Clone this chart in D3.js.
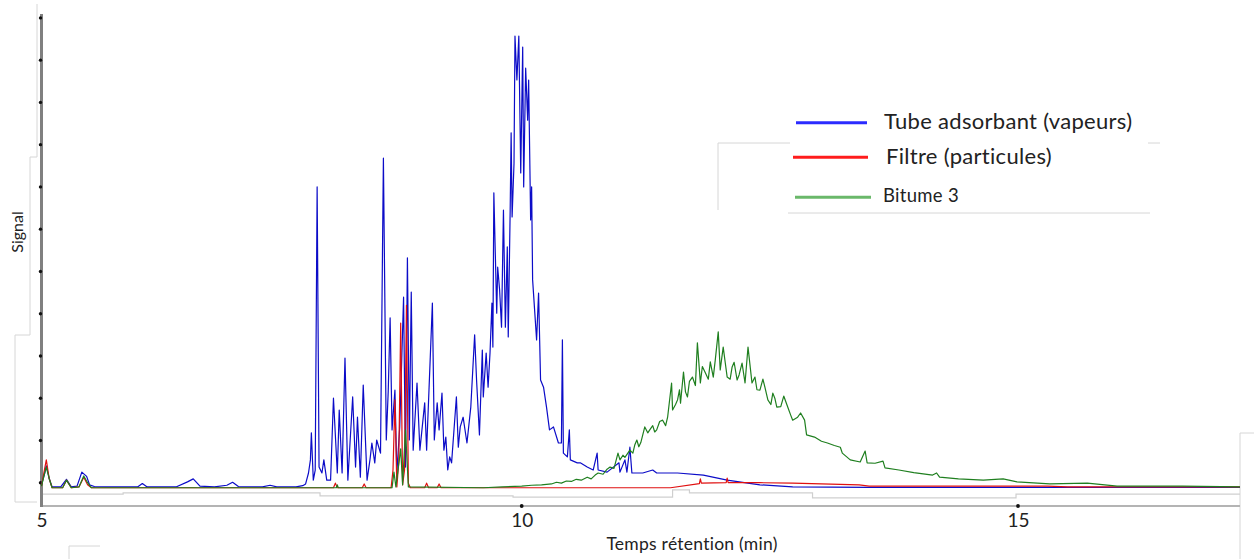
<!DOCTYPE html>
<html>
<head>
<meta charset="utf-8">
<script src="https://cdn.jsdelivr.net/npm/d3@7/dist/d3.min.js"></script>
<style>
  html, body { margin: 0; padding: 0; background: #fff; }
  svg { display: block; }
  text { font-family: Lato, "Open Sans", sans-serif; fill: #222; }
</style>
</head>
<body>
<svg id="chart" width="1254" height="559"></svg>
<script>
// ---------- data (retention time in min, signal in arbitrary units) ----------
const xTickValues = [5, 10, 15];
const xTickLabels = ["5", "10", "15"];
const yTickValues = [0, 10, 20, 30, 40, 50, 60, 70, 80, 90, 100, 110];

const seriesNames = ["Tube adsorbant (vapeurs)", "Filtre (particules)", "Bitume 3"];

const tubeSeries = [
  [5.00,-0.5],[5.03,2.0],[5.05,4.0],[5.08,1.0],[5.11,-1.0],[5.20,-1.0],[5.26,0.8],[5.31,-1.0],
  [5.37,-0.8],[5.42,2.5],[5.47,1.5],[5.50,-0.5],[5.55,-0.9],[5.70,-1.0],[6.00,-1.0],[6.05,-0.2],
  [6.10,-1.0],[6.40,-1.0],[6.52,0.2],[6.58,0.9],[6.65,-0.8],[6.80,-1.0],[6.93,-0.6],[6.99,0.1],
  [7.05,-0.9],[7.30,-1.0],[7.38,-0.6],[7.45,-1.0],[7.65,-1.0],[7.72,-0.7],[7.75,-0.3],
  [7.78,2.3],[7.80,5.4],[7.81,11.8],[7.83,0.6],[7.85,3.0],[7.87,70.0],[7.89,3.7],[7.92,2.3],
  [7.94,5.4],[7.97,0.6],[8.01,0.6],[8.04,20.0],[8.08,2.3],[8.10,17.2],[8.13,2.3],[8.16,29.5],
  [8.19,0.6],[8.24,20.3],[8.27,3.7],[8.29,15.5],[8.32,1.3],[8.35,23.1],[8.39,0.6],[8.42,5.4],
  [8.44,9.4],[8.47,4.7],[8.49,10.1],[8.53,7.0],[8.56,76.8],[8.59,10.1],[8.61,21.5],[8.63,39.0],
  [8.65,12.5],[8.68,21.9],[8.70,2.3],[8.73,13.2],[8.77,43.9],[8.79,3.7],[8.81,53.2],[8.83,10.1],
  [8.85,45.1],[8.87,7.7],[8.91,23.6],[8.94,7.7],[8.99,18.9],[9.01,7.7],[9.07,42.5],[9.09,10.1],
  [9.12,18.9],[9.14,12.5],[9.17,21.2],[9.19,7.7],[9.21,10.8],[9.23,3.0],[9.25,6.1],[9.27,4.7],
  [9.32,20.3],[9.34,8.4],[9.36,13.2],[9.39,15.5],[9.43,9.4],[9.47,17.9],[9.51,35.0],[9.53,24.3],
  [9.56,11.3],[9.59,31.4],[9.60,20.3],[9.63,30.7],[9.65,22.6],[9.67,30.7],[9.69,42.5],[9.70,32.1],
  [9.71,68.6],[9.74,40.1],[9.75,51.0],[9.77,45.6],[9.79,36.8],[9.81,64.5],[9.83,36.8],[9.85,55.8],
  [9.86,34.5],[9.88,64.5],[9.89,82.8],[9.90,62.9],[9.92,75.6],[9.93,105.7],[9.95,95.3],[9.97,105.7],
  [9.99,73.3],[10.01,103.1],[10.02,70.0],[10.04,98.1],[10.06,85.8],[10.07,95.3],[10.09,62.2],[10.10,70.0],
  [10.11,48.0],[10.13,40.9],[10.15,33.8],[10.17,44.9],[10.19,24.3],[10.22,22.6],[10.25,17.9],[10.28,12.5],
  [10.32,13.2],[10.37,9.4],[10.40,9.4],[10.41,33.8],[10.42,7.0],[10.46,6.1],[10.48,12.5],[10.49,5.4],
  [10.56,4.7],[10.59,4.7],[10.66,3.7],[10.72,3.0],[10.76,7.0],[10.77,3.0],[10.86,2.5],[10.98,4.7],
  [10.99,2.5],[11.04,5.4],[11.06,2.5],[11.09,8.4],[11.11,2.3],[11.22,2.3],[11.32,3.0],[11.36,2.3],
  [11.57,2.3],[11.83,1.8],[12.07,0.6],[12.40,-0.5],[12.73,-1.0],[13.50,-1.1],[17.24,-1.1]
];

const filterSeries = [
  [5.00,-0.8],[5.03,3.0],[5.05,5.4],[5.08,1.0],[5.11,-1.2],[5.22,-1.2],[5.26,0.6],[5.31,-1.2],
  [5.39,-1.0],[5.44,1.3],[5.48,-0.5],[5.52,-1.2],[8.04,-1.2],[8.06,-0.1],[8.08,-1.2],[8.34,-1.2],
  [8.36,-0.3],[8.38,-1.2],[8.64,-1.2],[8.66,3.0],[8.68,19.6],[8.70,-1.0],[8.72,5.0],[8.74,37.8],
  [8.76,-0.5],[8.78,3.0],[8.80,42.0],[8.82,-0.1],[8.84,-1.2],[8.99,-1.2],[9.01,-0.1],[9.03,-1.2],
  [9.12,-1.2],[9.14,-0.3],[9.16,-1.2],[11.50,-1.2],[11.79,-0.2],[11.80,0.9],[11.81,-0.1],[12.06,0.0],
  [12.07,1.1],[12.08,0.0],[12.40,0.0],[12.73,-0.1],[13.40,-0.5],[13.50,-0.8],[15.30,-0.8],[15.50,-1.0],
  [17.24,-1.0]
];

const bitumeSeries = [
  [5.00,-0.8],[5.03,2.0],[5.05,3.7],[5.08,1.0],[5.11,-1.2],[5.22,-1.2],[5.26,0.6],[5.31,-1.2],
  [5.39,-1.0],[5.44,1.6],[5.48,0.0],[5.52,-1.2],[8.07,-1.2],[8.08,-0.5],[8.09,-1.2],[8.65,-1.2],
  [8.67,2.5],[8.69,-1.0],[8.74,8.0],[8.76,-0.5],[8.79,12.5],[8.82,-1.0],[9.60,-1.2],[9.80,-1.0],
  [10.00,-0.8],[10.10,-0.6],[10.20,-0.5],[10.30,-0.3],[10.35,0.1],[10.40,-0.1],[10.45,0.4],[10.50,0.3],
  [10.55,0.8],[10.60,0.6],[10.66,1.3],[10.70,0.9],[10.74,1.8],[10.77,2.3],[10.82,2.0],[10.86,3.2],
  [10.89,3.7],[10.93,3.4],[10.97,7.0],[10.99,5.4],[11.02,6.5],[11.04,6.0],[11.09,7.7],[11.12,7.0],
  [11.14,9.0],[11.16,10.1],[11.18,8.5],[11.20,9.5],[11.24,13.2],[11.27,11.8],[11.29,12.5],[11.32,13.5],
  [11.34,12.0],[11.36,12.5],[11.39,14.5],[11.42,14.8],[11.45,13.5],[11.47,15.5],[11.51,23.6],[11.52,17.2],
  [11.55,18.5],[11.57,19.6],[11.59,22.0],[11.60,18.8],[11.63,26.2],[11.65,21.5],[11.67,20.3],[11.69,24.0],
  [11.72,25.0],[11.75,23.0],[11.77,33.1],[11.80,23.6],[11.82,27.5],[11.85,26.0],[11.88,24.5],[11.90,28.6],
  [11.93,25.0],[11.95,29.0],[11.98,35.7],[12.00,26.7],[12.03,32.1],[12.05,28.5],[12.07,25.0],[12.10,24.5],
  [12.12,27.4],[12.14,28.5],[12.17,24.3],[12.19,25.5],[12.22,28.3],[12.25,23.6],[12.28,32.1],[12.32,23.6],
  [12.35,25.0],[12.37,22.0],[12.40,21.9],[12.43,24.5],[12.45,22.6],[12.48,19.6],[12.51,18.5],[12.53,21.2],
  [12.55,20.0],[12.57,17.9],[12.61,18.0],[12.64,20.5],[12.68,17.9],[12.71,16.0],[12.73,14.8],[12.78,15.5],
  [12.81,16.5],[12.85,14.8],[12.87,11.3],[12.95,10.8],[13.02,9.8],[13.08,9.4],[13.15,8.8],[13.21,8.4],
  [13.23,7.0],[13.31,5.4],[13.41,4.9],[13.46,7.5],[13.48,4.7],[13.56,4.6],[13.64,5.1],[13.66,3.5],
  [13.80,3.0],[13.95,2.4],[14.14,1.8],[14.18,2.3],[14.21,1.3],[14.40,0.9],[14.65,0.6],[14.85,0.9],
  [14.99,0.2],[15.32,-0.3],[15.70,-0.1],[16.00,-0.8],[16.66,-0.8],[17.24,-1.0]
];

// faint grey step trace visible under the baseline in the source picture
const underTrace = [
  [5.00,-2.7],[5.85,-2.7],[5.85,-2.4],[7.90,-2.4],[7.90,-3.1],[9.91,-3.1],[9.91,-3.4],[11.52,-3.4],
  [11.52,-1.7],[11.69,-1.7],[11.69,-2.4],[12.93,-2.4],[12.93,-3.6],[14.98,-3.6],[14.98,-2.7],[17.24,-2.7]
];

const lineColors = ["#0c0cc8", "#e01010", "#1f7f1f"];
const legendColors = ["#2b2bff", "#ff1c1c", "#6ab86a"];

// ---------- drawing ----------
const svg = d3.select("#chart");

const x = d3.scaleLinear().domain([5, 10, 15, 17.24]).range([41.5, 521.7, 1018, 1240]);
const y = d3.scaleLinear().domain([0, 110]).range([482.7, 17.9]);

// faint frame artefacts
const frame = svg.append("g").attr("fill", "none").attr("stroke", "#d6d6d6").attr("stroke-width", 1);
frame.append("path").attr("d", "M37,4 V157 H30 V335 H15 V502 H37");
frame.append("path").attr("d", "M1240,559 V433 H1254");
frame.append("path").attr("d", "M69,559 V546 H100");
frame.append("path").attr("d", "M718,210 V143 H790 M1148,143 H1160 M788,213 H1150");

// grey trace under baseline
const line = d3.line().x(d => x(d[0])).y(d => y(d[1]));
svg.append("path").datum(underTrace).attr("d", line)
  .attr("fill", "none").attr("stroke", "#cfcfcf").attr("stroke-width", 1.2);

// axes
svg.append("line").attr("x1", x(5)).attr("x2", x(17.24)).attr("y1", 506).attr("y2", 506)
  .attr("stroke", "#b4b4b4").attr("stroke-width", 2);
svg.append("line").attr("x1", 41.5).attr("x2", 41.5).attr("y1", 14).attr("y2", 507)
  .attr("stroke", "#808080").attr("stroke-width", 3);

// y tick dots
svg.append("g").selectAll("circle").data(yTickValues).join("circle")
  .attr("cx", 40.5).attr("cy", d => y(d)).attr("r", 1.7).attr("fill", "#111");

// x axis labels via d3 axis
const xAxis = d3.axisBottom(x).tickValues(xTickValues)
  .tickFormat((d, i) => xTickLabels[i]).tickSize(0).tickPadding(0);
const gx = svg.append("g").attr("transform", "translate(0,506)").call(xAxis);
gx.select(".domain").remove();
gx.selectAll("text").attr("font-family", "Lato, sans-serif").attr("font-size", 19)
  .attr("fill", "#222").attr("dy", null).attr("y", 21);
// x tick dots
svg.append("g").selectAll("circle").data(xTickValues.slice(1)).join("circle")
  .attr("cx", d => x(d)).attr("cy", 506).attr("r", 1.9).attr("fill", "#111");

// series
const allSeries = [tubeSeries, filterSeries, bitumeSeries];
allSeries.forEach((s, i) => {
  svg.append("path").datum(s).attr("d", line)
    .attr("fill", "none").attr("stroke", lineColors[i])
    .attr("stroke-width", 1.2).attr("stroke-linejoin", "round");
});

// axis titles
svg.append("text").attr("transform", "translate(23,232) rotate(-90)")
  .attr("text-anchor", "middle").attr("font-size", 16).text("Signal");
svg.append("text").attr("x", 692).attr("y", 550).attr("text-anchor", "middle")
  .attr("font-size", 17.5).attr("letter-spacing", 0.25).text("Temps rétention (min)");

// legend
const legendRows = [
  { y: 122.7, ty: 129, tx: 884, size: 22, x1: 796, x2: 867 },
  { y: 157.3, ty: 164, tx: 886, size: 22, x1: 793, x2: 868 },
  { y: 197.3, ty: 202, tx: 883, size: 18.5, x1: 795, x2: 871 }
];
const lg = svg.append("g");
legendRows.forEach((r, i) => {
  lg.append("line").attr("x1", r.x1).attr("x2", r.x2).attr("y1", r.y).attr("y2", r.y)
    .attr("stroke", legendColors[i]).attr("stroke-width", 3);
  lg.append("text").attr("x", r.tx).attr("y", r.ty).attr("font-size", r.size)
    .attr("letter-spacing", 0.3).attr("fill", "#1a1a1a").text(seriesNames[i]);
});
</script>
</body>
</html>
